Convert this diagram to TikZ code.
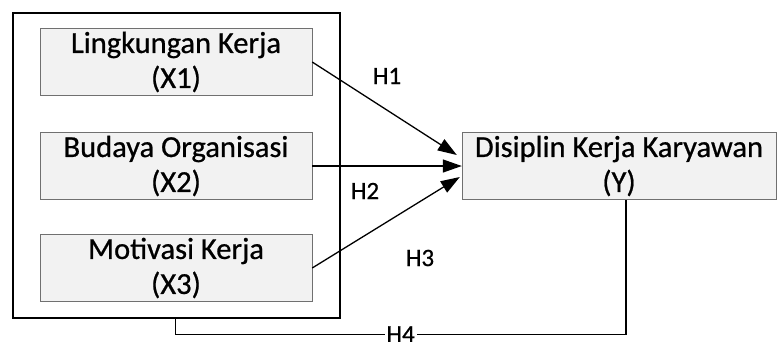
\documentclass[tikz,border=0pt]{standalone}
\usepackage{fontspec}
\setmainfont{Carlito}[FakeBold=0.7]
\usetikzlibrary{arrows.meta}
\definecolor{boxfill}{HTML}{F2F2F2}
\definecolor{boxline}{HTML}{707070}
\tikzstyle{var} = [rectangle, minimum width=272pt, minimum height=67pt, align=center, inner sep=0pt, draw=boxline, fill=boxfill, font=\fontsize{30.5}{35}\selectfont]
\tikzstyle{outer} = [rectangle, minimum width=327pt, minimum height=305pt, draw=black, line width=2.2pt]
\tikzstyle{hyp} = [inner sep=2pt, font=\fontsize{25}{28}\selectfont]
\tikzstyle{arrow} = [line width=1.3pt, -{Triangle[length=19pt,width=13pt]}]

\begin{document}
\begin{tikzpicture}[x=1pt, y=1pt, node distance=103pt]
\useasboundingbox (0,0) rectangle (778,-341);

%% NODES

\node (frame) [outer] at (176.3,-165.7) {};
\node (x1) [var] at (176,-62) {Lingkungan Kerja\\(X1)};
\node (x2) [var, below of=x1, node distance=104pt] {Budaya Organisasi\\(X2)};
\node (x3) [var, below of=x2, node distance=102pt] {Motivasi Kerja\\(X3)};
\node (y) [var, minimum width=314pt, right of=x2, node distance=443pt] {Disiplin Kerja Karyawan\\(Y)};
\node (h1) [hyp] at (387,-76) {H1};
\node (h2) [hyp] at (365,-191) {H2};
\node (h3) [hyp] at (420,-258) {H3};

%% ARROWS

\draw [arrow] (x1.east) -- ([xshift=-5pt, yshift=11pt]y.west);
\draw [arrow] (x2.east) -- (y.west);
\draw [arrow] (x3.east) -- ([xshift=-2pt, yshift=-11pt]y.west);
\draw [line width=1.3pt] ([xshift=-1pt]frame.south) -- ++(0,-15) -| node[hyp, pos=0.25, fill=white] {H4} ([xshift=7pt]y.south);

\end{tikzpicture}
\end{document}
